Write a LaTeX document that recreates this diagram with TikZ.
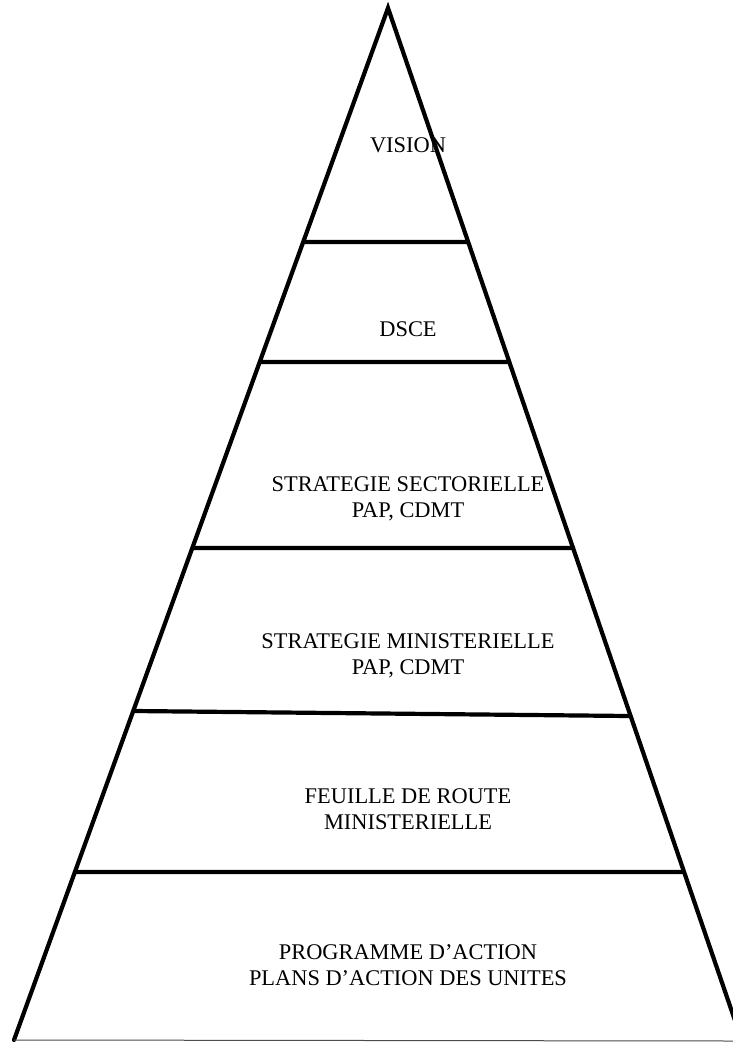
\documentclass[tikz,border=0pt]{standalone}
\usepackage{fontspec}
\setmainfont{Liberation Serif}
\usepackage{tikz}
\usetikzlibrary{calc}

\tikzset{
    side/.style={line width=4.2pt,line cap=round},
    stage/.style={font=\rmfamily\fontsize{22.4}{26}\selectfont,align=center,inner sep=0pt}
}

\begin{document}
\begin{tikzpicture}[x=1pt,y=-1pt]
    \clip (0,0) rectangle (733,1042);
    \fill[white] (0,0) rectangle (733,1042);
    % corners
    \coordinate (top) at (388,8);
    \coordinate (bl) at (14,1040);
    \coordinate (br) at (742,1041);
    \coordinate (bend) at (733,1041);
    % sides
    \draw[side] (bl) -- (top) -- (br);
    \draw[gray!60!black,line width=1pt] (bl) -- (bend);
    % levels
    \foreach \a/\b in {0.2267/0.2265,0.3430/0.3427,0.5233/0.5227,0.6812/0.6854,0.8372/0.8364} {
        \draw[side,line cap=butt] ($(top)!\a!(bl)$) -- ($(top)!\b!(br)$);
    }
    % labels
    \node[stage] (vision) at (408,145.5) {VISION};
    \node[stage] (dsce) at (408,329) {DSCE};
    \node[stage] (sectorielle) at (408,498.5) {STRATEGIE SECTORIELLE\\PAP, CDMT};
    \node[stage] (ministerielle) at (408,656) {STRATEGIE MINISTERIELLE\\PAP, CDMT};
    \node[stage] (feuille) at (408,809.5) {FEUILLE DE ROUTE\\MINISTERIELLE};
    \node[stage] (programme) at (408,965.5) {PROGRAMME D’ACTION\\PLANS D’ACTION DES UNITES};
\end{tikzpicture}
\end{document}
